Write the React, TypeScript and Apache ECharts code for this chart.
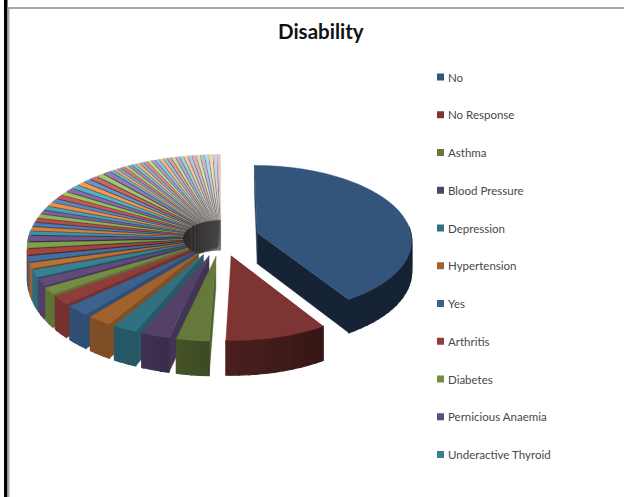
import React, { useEffect, useRef } from "react";
import * as echarts from "echarts";

// Responses that appear in the legend, largest first.
const namedCategories = [
  "No", "No Response", "Asthma", "Blood Pressure", "Depression", "Hypertension",
  "Yes", "Arthritis", "Diabetes", "Pernicious Anaemia", "Underactive Thyroid",
];
const namedCounts = [107, 25, 8, 7, 6, 6, 6, 5, 4, 4, 4];

// Remaining answers, which have too little room to be listed.
const otherCounts = [
  3, 3, 3, 3, 3, 2, 2, 2, 2, 2, 2, 2, 2, 2, 2, 2, 2, 2, 2, 2, 2, 2, 2,
  1, 1, 1, 1, 1, 1, 1, 1, 1, 1, 1, 1, 1, 1, 1, 1, 1, 1, 1, 1, 1, 1, 1, 1, 1, 1, 1, 1,
];

const accentColors = ["#4F81BD", "#C0504D", "#9BBB59", "#8064A2", "#4BACC6", "#F79646"];

const counts = [...namedCounts, ...otherCounts];
const total = counts.reduce((a, b) => a + b, 0);

const toRgb = (hex: string) => [1, 3, 5].map((i) => parseInt(hex.slice(i, i + 2), 16));
const toHex = (c: number[]) =>
  "#" + c.map((v) => Math.round(Math.min(255, Math.max(0, v))).toString(16).padStart(2, "0")).join("");
const scaleColor = (hex: string, f: number) => toHex(toRgb(hex).map((v) => v * f));

// Theme accents run from a deep shade on the first slices to a pale tint on the last.
function sliceColor(index: number, n: number) {
  const base = toRgb(accentColors[index % accentColors.length]);
  const cycle = Math.floor(index / accentColors.length);
  const cycles = Math.ceil(n / accentColors.length);
  const t = cycle / Math.max(1, cycles - 1);
  const f = -0.35 + 1.0 * t;
  return f < 0
    ? toHex(base.map((v) => v * (1 + f)))
    : toHex(base.map((v) => v + (255 - v) * f));
}

// Projection of the tilted disc.
const CX = 221;
const CY = 238;
const RADIUS = 154.5;
const EXPLODE = 38;
const TILT = 0.48;
const PERSPECTIVE = 0.085;
const THICKNESS = 31;

function project(wx: number, wy: number, lowered: boolean): number[] {
  const s = 1 / (1 + (PERSPECTIVE * wy) / RADIUS);
  return [CX + wx * s, CY - TILT * wy * s + (lowered ? THICKNESS * s : 0)];
}

// Outer wall brightness: dark on the right, lighter towards the left.
function rimShade(deg: number) {
  if (deg <= 147) return 0.42;
  if (deg <= 182) return 0.42 + ((deg - 147) / 35) * 0.18;
  if (deg <= 205) return 0.6 + ((deg - 182) / 23) * 0.18;
  if (deg <= 270) return 0.78 + ((deg - 205) / 65) * 0.1;
  return 0.88;
}

function startWallShade(deg: number) {
  if (deg <= 235) return 0.8;
  if (deg >= 265) return 0.34;
  return 0.8 - ((deg - 235) / 30) * 0.46;
}

const solid = (points: number[][], fill: string, seam = 0.4) => ({
  type: "polygon",
  silent: true,
  shape: { points },
  style: { fill, stroke: fill, lineWidth: seam },
});

function makeRenderItem(color: string) {
  return (_params: any, api: any) => {
    const from = api.value(0) as number;
    const to = api.value(1) as number;
    const mid = (((from + to) / 2) * Math.PI) / 180;
    const ox = EXPLODE * Math.sin(mid);
    const oy = EXPLODE * Math.cos(mid);
    const at = (deg: number, low: boolean) => {
      const a = (deg * Math.PI) / 180;
      return project(ox + RADIUS * Math.sin(a), oy + RADIUS * Math.cos(a), low);
    };
    const apexTop = project(ox, oy, false);
    const apexLow = project(ox, oy, true);

    const children: any[] = [];

    // Radial walls first, so the rim and top cover them.
    children.push(solid([apexTop, at(from, false), at(from, true), apexLow], scaleColor(color, startWallShade(from))));
    if (to < 180) {
      children.push(solid([apexTop, at(to, false), at(to, true), apexLow], scaleColor(color, 0.42)));
    }

    // Rim, cut into short facets so its shading can vary with the angle.
    const rimFrom = Math.max(from, 85);
    const rimTo = Math.min(to, 275);
    for (let d = rimFrom; d < rimTo; d += 3) {
      const e = Math.min(d + 3, rimTo);
      children.push(solid([at(d, false), at(e, false), at(e, true), at(d, true)], scaleColor(color, rimShade((d + e) / 2)), 1.2));
    }

    // Top face.
    const top: number[][] = [apexTop];
    for (let d = from; d < to; d += 2) top.push(at(d, false));
    top.push(at(to, false));
    children.push(solid(top, color));

    return { type: "group", children };
  };
}

export default function App() {
  const ref = useRef<HTMLDivElement>(null);

  useEffect(() => {
    document.body.style.margin = "0";
    const chart = echarts.init(ref.current!, undefined, { renderer: "svg" });

    let running = 0;
    const series: any[] = counts.map((count, i) => {
      const from = (running / total) * 360;
      running += count;
      const to = (running / total) * 360;
      const color = sliceColor(i, counts.length);
      return {
        type: "custom",
        name: namedCategories[i] ?? `Response ${i + 1}`,
        coordinateSystem: "none",
        silent: true,
        clip: false,
        itemStyle: { color },
        data: [[from, to]],
        renderItem: makeRenderItem(color),
      };
    });

    // Far slices are painted before near ones.
    const depth = (s: any) => Math.cos(((s.data[0][0] + s.data[0][1]) / 2) * (Math.PI / 180));
    [...series].sort((a, b) => depth(b) - depth(a)).forEach((s, rank) => { s.z = 100 + rank; });

    chart.setOption({
      animation: false,
      backgroundColor: "#ffffff",
      title: {
        text: "Disability",
        left: 273,
        top: 15,
        textStyle: { fontFamily: "Lato", fontSize: 20.5, fontWeight: "bold", color: "#111111" },
      },
      legend: {
        data: namedCategories,
        orient: "vertical",
        left: 432,
        top: 66,
        itemWidth: 7,
        itemHeight: 7,
        itemGap: 25.75,
        icon: "rect",
        selectedMode: false,
        textStyle: { fontFamily: "Lato", fontSize: 11.5, color: "#484848", padding: [0, 0, 0, -1] },
      },
      graphic: [
        { type: "rect", shape: { x: 4, y: 0, width: 3.5, height: 497 }, style: { fill: "#000000" } },
        { type: "rect", shape: { x: 7.5, y: 7, width: 2, height: 490 }, style: { fill: "#a8a8a8" } },
        { type: "rect", shape: { x: 7.5, y: 7, width: 616.5, height: 2 }, style: { fill: "#a8a8a8" } },
      ],
      series,
    });
    return () => chart.dispose();
  }, []);

  return <div ref={ref} style={{ position: "absolute", left: 0, top: 0, width: 624, height: 497 }} />;
}
